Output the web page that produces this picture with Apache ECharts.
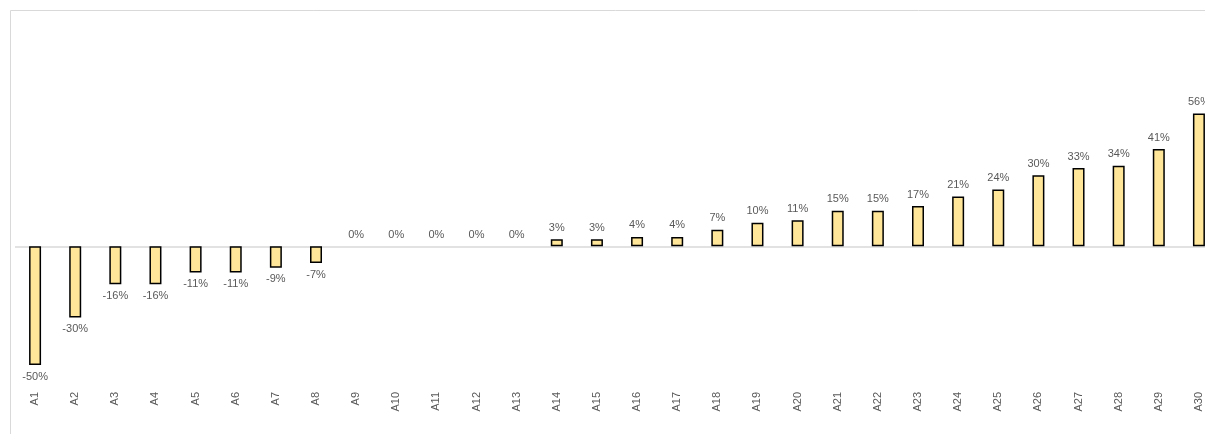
<!DOCTYPE html>
<html>
<head>
<meta charset="utf-8">
<script src="https://cdn.jsdelivr.net/npm/echarts@6/dist/echarts.min.js"></script>
<style>
html,body{margin:0;padding:0;background:#fff;overflow:hidden;width:1205px;height:434px;}
#chart{width:1220px;height:434px;}
</style>
</head>
<body>
<div id="chart"></div>
<script>
const categories = ['A1','A2','A3','A4','A5','A6','A7','A8','A9','A10','A11','A12','A13','A14','A15','A16','A17','A18','A19','A20','A21','A22','A23','A24','A25','A26','A27','A28','A29','A30'];
const values = [-50,-30,-16,-16,-11,-11,-9,-7,0,0,0,0,0,3,3,4,4,7,10,11,15,15,17,21,24,30,33,34,41,56];

const chart = echarts.init(document.getElementById('chart'), null, {renderer:'canvas'});
const textColor = '#595959';
const fontFamily = 'Liberation Sans, Arial, sans-serif';

const seriesData = values.map(v => ({
  value: v,
  label: { position: v < 0 ? 'bottom' : 'top' },
  itemStyle: v === 0 ? { borderWidth: 0 } : undefined
}));

chart.setOption({
  animation: false,
  backgroundColor: '#ffffff',
  graphic: [{
    type: 'rect',
    shape: { x: 10.5, y: 10.5, width: 1400, height: 1000 },
    style: { fill: 'none', stroke: '#d9d9d9', lineWidth: 1 },
    silent: true
  }],
  grid: { left: 15, right: 1, top: 104, bottom: 50, containLabel: false },
  xAxis: {
    type: 'category',
    data: categories,
    axisLine: { show: false, onZero: false },
    axisTick: { show: false },
    axisLabel: { rotate: 90, color: textColor, fontSize: 11, fontFamily: fontFamily, margin: 8, interval: 0 },
    splitLine: { show: false }
  },
  yAxis: {
    type: 'value',
    min: -58,
    max: 60,
    show: false,
    splitLine: { show: false }
  },
  series: [{
    type: 'bar',
    data: seriesData,
    barWidth: 12,
    itemStyle: { color: '#FFE699', borderColor: '#000000', borderWidth: 1.5 },
    label: {
      show: true,
      formatter: p => p.value + '%',
      color: textColor,
      fontSize: 11,
      fontFamily: fontFamily,
      distance: 6
    },
    markLine: {
      silent: true,
      symbol: ['none','none'],
      label: { show: false },
      lineStyle: { color: '#d9d9d9', width: 1.5, type: 'solid' },
      data: [{ yAxis: 0 }],
      z: 1
    },
    z: 2
  }]
});
</script>
</body>
</html>
